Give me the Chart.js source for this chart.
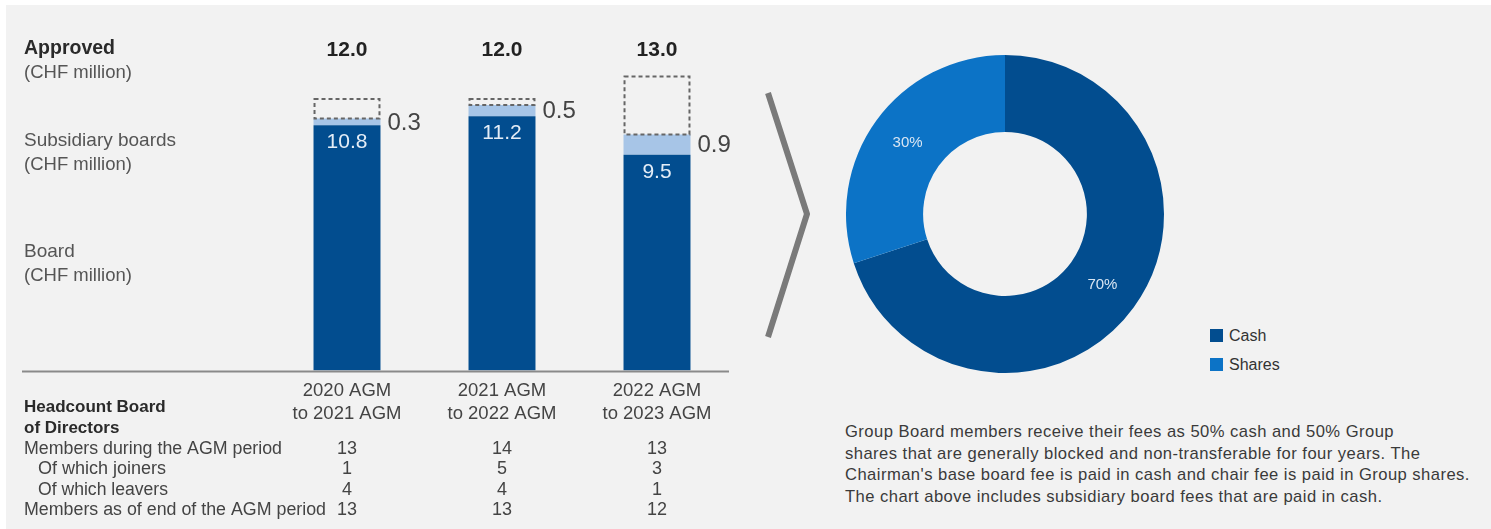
<!DOCTYPE html>
<html>
<head>
<meta charset="utf-8">
<script src="https://cdn.jsdelivr.net/npm/chart.js@4.4.1/dist/chart.umd.min.js"></script>
<style>
  html, body { margin: 0; padding: 0; background: #ffffff; }
  #stage { position: relative; width: 1491px; height: 529px; overflow: hidden; background: #ffffff; }
  #panel { position: absolute; left: 6px; top: 5px; right: 0; bottom: 0; background: #f2f2f2; }
  #barCanvas { position: absolute; left: 0; top: 0; }
  #donutCanvas { position: absolute; left: 846px; top: 55px; }
  #chevron { position: absolute; left: 750px; top: 80px; }
  #legend { position: absolute; left: 1210px; top: 321px; font: 16px "Liberation Sans", Arial, sans-serif; color: #333; }
  #legend div { height: 29px; display: flex; align-items: center; }
  #legend span.sw { display: inline-block; width: 13px; height: 13px; margin-right: 6px; }
  #note { position: absolute; left: 845px; top: 421px; font: 16.6px "Liberation Sans", Arial, sans-serif; line-height: 21.5px; letter-spacing: 0.45px; color: #3a3a3a; white-space: pre; }
</style>
</head>
<body>
<div id="stage">
  <div id="panel"></div>
  <canvas id="barCanvas" width="740" height="529"></canvas>
  <svg id="chevron" width="70" height="270">
    <polyline points="18,13 57,134 18,257" fill="none" stroke="#7a7a7a" stroke-width="6"/>
  </svg>
  <canvas id="donutCanvas" width="318" height="318"></canvas>
  <div id="legend"></div>
  <div id="note"></div>
</div>
<script>
// bar chart data (CHF million)
const periods = [['2020 AGM', 'to 2021 AGM'], ['2021 AGM', 'to 2022 AGM'], ['2022 AGM', 'to 2023 AGM']];
const boardFees = [10.8, 11.2, 9.5];
const subsidiaryFees = [0.3, 0.5, 0.9];
const approvedFees = [12.0, 12.0, 13.0];

// headcount table
const headcountRows = ['Members during the AGM period', 'Of which joiners', 'Of which leavers', 'Members as of end of the AGM period'];
const membersDuring = [13, 14, 13];
const joiners = [1, 5, 3];
const leavers = [4, 4, 1];
const membersEnd = [13, 13, 12];

// donut
const payLabels = ['Cash', 'Shares'];
const payShares = [70, 30];

const noteLines = [
  'Group Board members receive their fees as 50% cash and 50% Group',
  'shares that are generally blocked and non-transferable for four years. The',
  "Chairman's base board fee is paid in cash and chair fee is paid in Group shares.",
  'The chart above includes subsidiary board fees that are paid in cash.'
];

const DARK = '#024d8f';
const LIGHT = '#a7c5e7';
const SHARES = '#0c73c6';
const FONT = '"Liberation Sans", Arial, sans-serif';

const unused = approvedFees.map((a, i) => +(a - boardFees[i] - subsidiaryFees[i]).toFixed(2));

const barDecor = {
  id: 'barDecor',
  afterDatasetsDraw(chart) {
    const ctx = chart.ctx;
    const xs = chart.scales.x;
    const ys = chart.scales.y;
    const y0 = ys.getPixelForValue(0);
    ctx.save();

    // baseline
    ctx.strokeStyle = '#8a8a8a';
    ctx.lineWidth = 2;
    ctx.beginPath();
    ctx.moveTo(22, y0 + 1);
    ctx.lineTo(729, y0 + 1);
    ctx.stroke();

    // dashed approved outline
    const gap = chart.getDatasetMeta(2).data;
    ctx.strokeStyle = '#666';
    ctx.lineWidth = 2;
    ctx.setLineDash([4, 3]);
    gap.forEach(el => {
      const l = el.x - el.width / 2;
      ctx.strokeRect(l + 1, el.y + 1, el.width - 2, el.base - el.y - 1);
    });
    ctx.setLineDash([]);

    // values in the board bars
    const board = chart.getDatasetMeta(0).data;
    ctx.font = '21px ' + FONT;
    ctx.fillStyle = '#e4edf7';
    ctx.textAlign = 'center';
    ctx.textBaseline = 'middle';
    board.forEach((el, i) => ctx.fillText(boardFees[i].toFixed(1), el.x, el.y + 17));

    // subsidiary values to the right
    const sub = chart.getDatasetMeta(1).data;
    ctx.font = '24px ' + FONT;
    ctx.fillStyle = '#444';
    ctx.textAlign = 'left';
    sub.forEach((el, i) => ctx.fillText(subsidiaryFees[i].toFixed(1), el.x + el.width / 2 + 7, (el.y + el.base) / 2 + 1));

    // approved totals along the top
    ctx.font = 'bold 21px ' + FONT;
    ctx.fillStyle = '#222';
    ctx.textAlign = 'center';
    approvedFees.forEach((v, i) => ctx.fillText(v.toFixed(1), xs.getPixelForValue(i), 50));

    // period labels
    ctx.font = '18.5px ' + FONT;
    ctx.fillStyle = '#444';
    periods.forEach((p, i) => {
      const x = xs.getPixelForValue(i);
      ctx.fillText(p[0], x, 391);
      ctx.fillText(p[1], x, 414);
    });

    // left side labels
    ctx.textAlign = 'left';
    ctx.font = 'bold 19.5px ' + FONT;
    ctx.fillStyle = '#2a2a2a';
    ctx.fillText('Approved', 24, 49);
    ctx.font = '19px ' + FONT;
    ctx.fillStyle = '#555';
    ctx.fillText('Subsidiary boards', 24, 141);
    ctx.fillText('Board', 24, 252);
    ctx.font = '18.5px ' + FONT;
    ctx.fillText('(CHF million)', 24, 73);
    ctx.fillText('(CHF million)', 24, 165);
    ctx.fillText('(CHF million)', 24, 276);

    // headcount table
    ctx.font = 'bold 17px ' + FONT;
    ctx.fillStyle = '#2a2a2a';
    ctx.fillText('Headcount Board', 24, 407, 155);
    ctx.fillText('of Directors', 24, 428, 104);
    const rowY = [449, 469, 490, 510];
    const rowX = [24, 38, 38, 24];
    const rowW = [258, 128, 130, 302];
    const rowVals = [membersDuring, joiners, leavers, membersEnd];
    ctx.font = '18px ' + FONT;
    ctx.fillStyle = '#444';
    headcountRows.forEach((label, r) => {
      ctx.textAlign = 'left';
      ctx.fillText(label, rowX[r], rowY[r], rowW[r]);
      ctx.textAlign = 'center';
      rowVals[r].forEach((v, i) => ctx.fillText(String(v), xs.getPixelForValue(i), rowY[r]));
    });
    ctx.restore();
  }
};

new Chart(document.getElementById('barCanvas'), {
  type: 'bar',
  data: {
    labels: periods.map(p => p.join(' ')),
    datasets: [
      { label: 'Board', data: boardFees, backgroundColor: DARK },
      { label: 'Subsidiary boards', data: subsidiaryFees, backgroundColor: LIGHT },
      { label: 'Approved', data: unused, backgroundColor: 'rgba(0,0,0,0)' }
    ]
  },
  options: {
    responsive: false,
    animation: false,
    devicePixelRatio: 1,
    layout: { padding: { left: 269.5, right: 5.5, top: 52.7, bottom: 158.5 } },
    datasets: { bar: { categoryPercentage: 1, barPercentage: 0.432, borderWidth: 0 } },
    scales: {
      x: { stacked: true, display: false },
      y: { stacked: true, display: false, min: 0, max: 14 }
    },
    plugins: { legend: { display: false }, tooltip: { enabled: false } }
  },
  plugins: [barDecor]
});

const pctLabels = {
  id: 'pctLabels',
  afterDatasetsDraw(chart) {
    const ctx = chart.ctx;
    ctx.save();
    ctx.font = '15px ' + FONT;
    ctx.fillStyle = '#d9e6f3';
    ctx.textAlign = 'center';
    ctx.textBaseline = 'middle';
    chart.getDatasetMeta(0).data.forEach((arc, i) => {
      const p = arc.tooltipPosition();
      ctx.fillText(payShares[i] + '%', p.x, p.y);
    });
    ctx.restore();
  }
};

new Chart(document.getElementById('donutCanvas'), {
  type: 'doughnut',
  data: {
    labels: payLabels,
    datasets: [{ data: payShares, backgroundColor: [DARK, SHARES], borderWidth: 0 }]
  },
  options: {
    responsive: false,
    animation: false,
    devicePixelRatio: 1,
    cutout: '51.5%',
    plugins: { legend: { display: false }, tooltip: { enabled: false } }
  },
  plugins: [pctLabels]
});

document.getElementById('legend').innerHTML = payLabels
  .map((l, i) => `<div><span class="sw" style="background:${[DARK, SHARES][i]}"></span>${l}</div>`)
  .join('');
document.getElementById('note').textContent = noteLines.join('\n');
</script>
</body>
</html>
